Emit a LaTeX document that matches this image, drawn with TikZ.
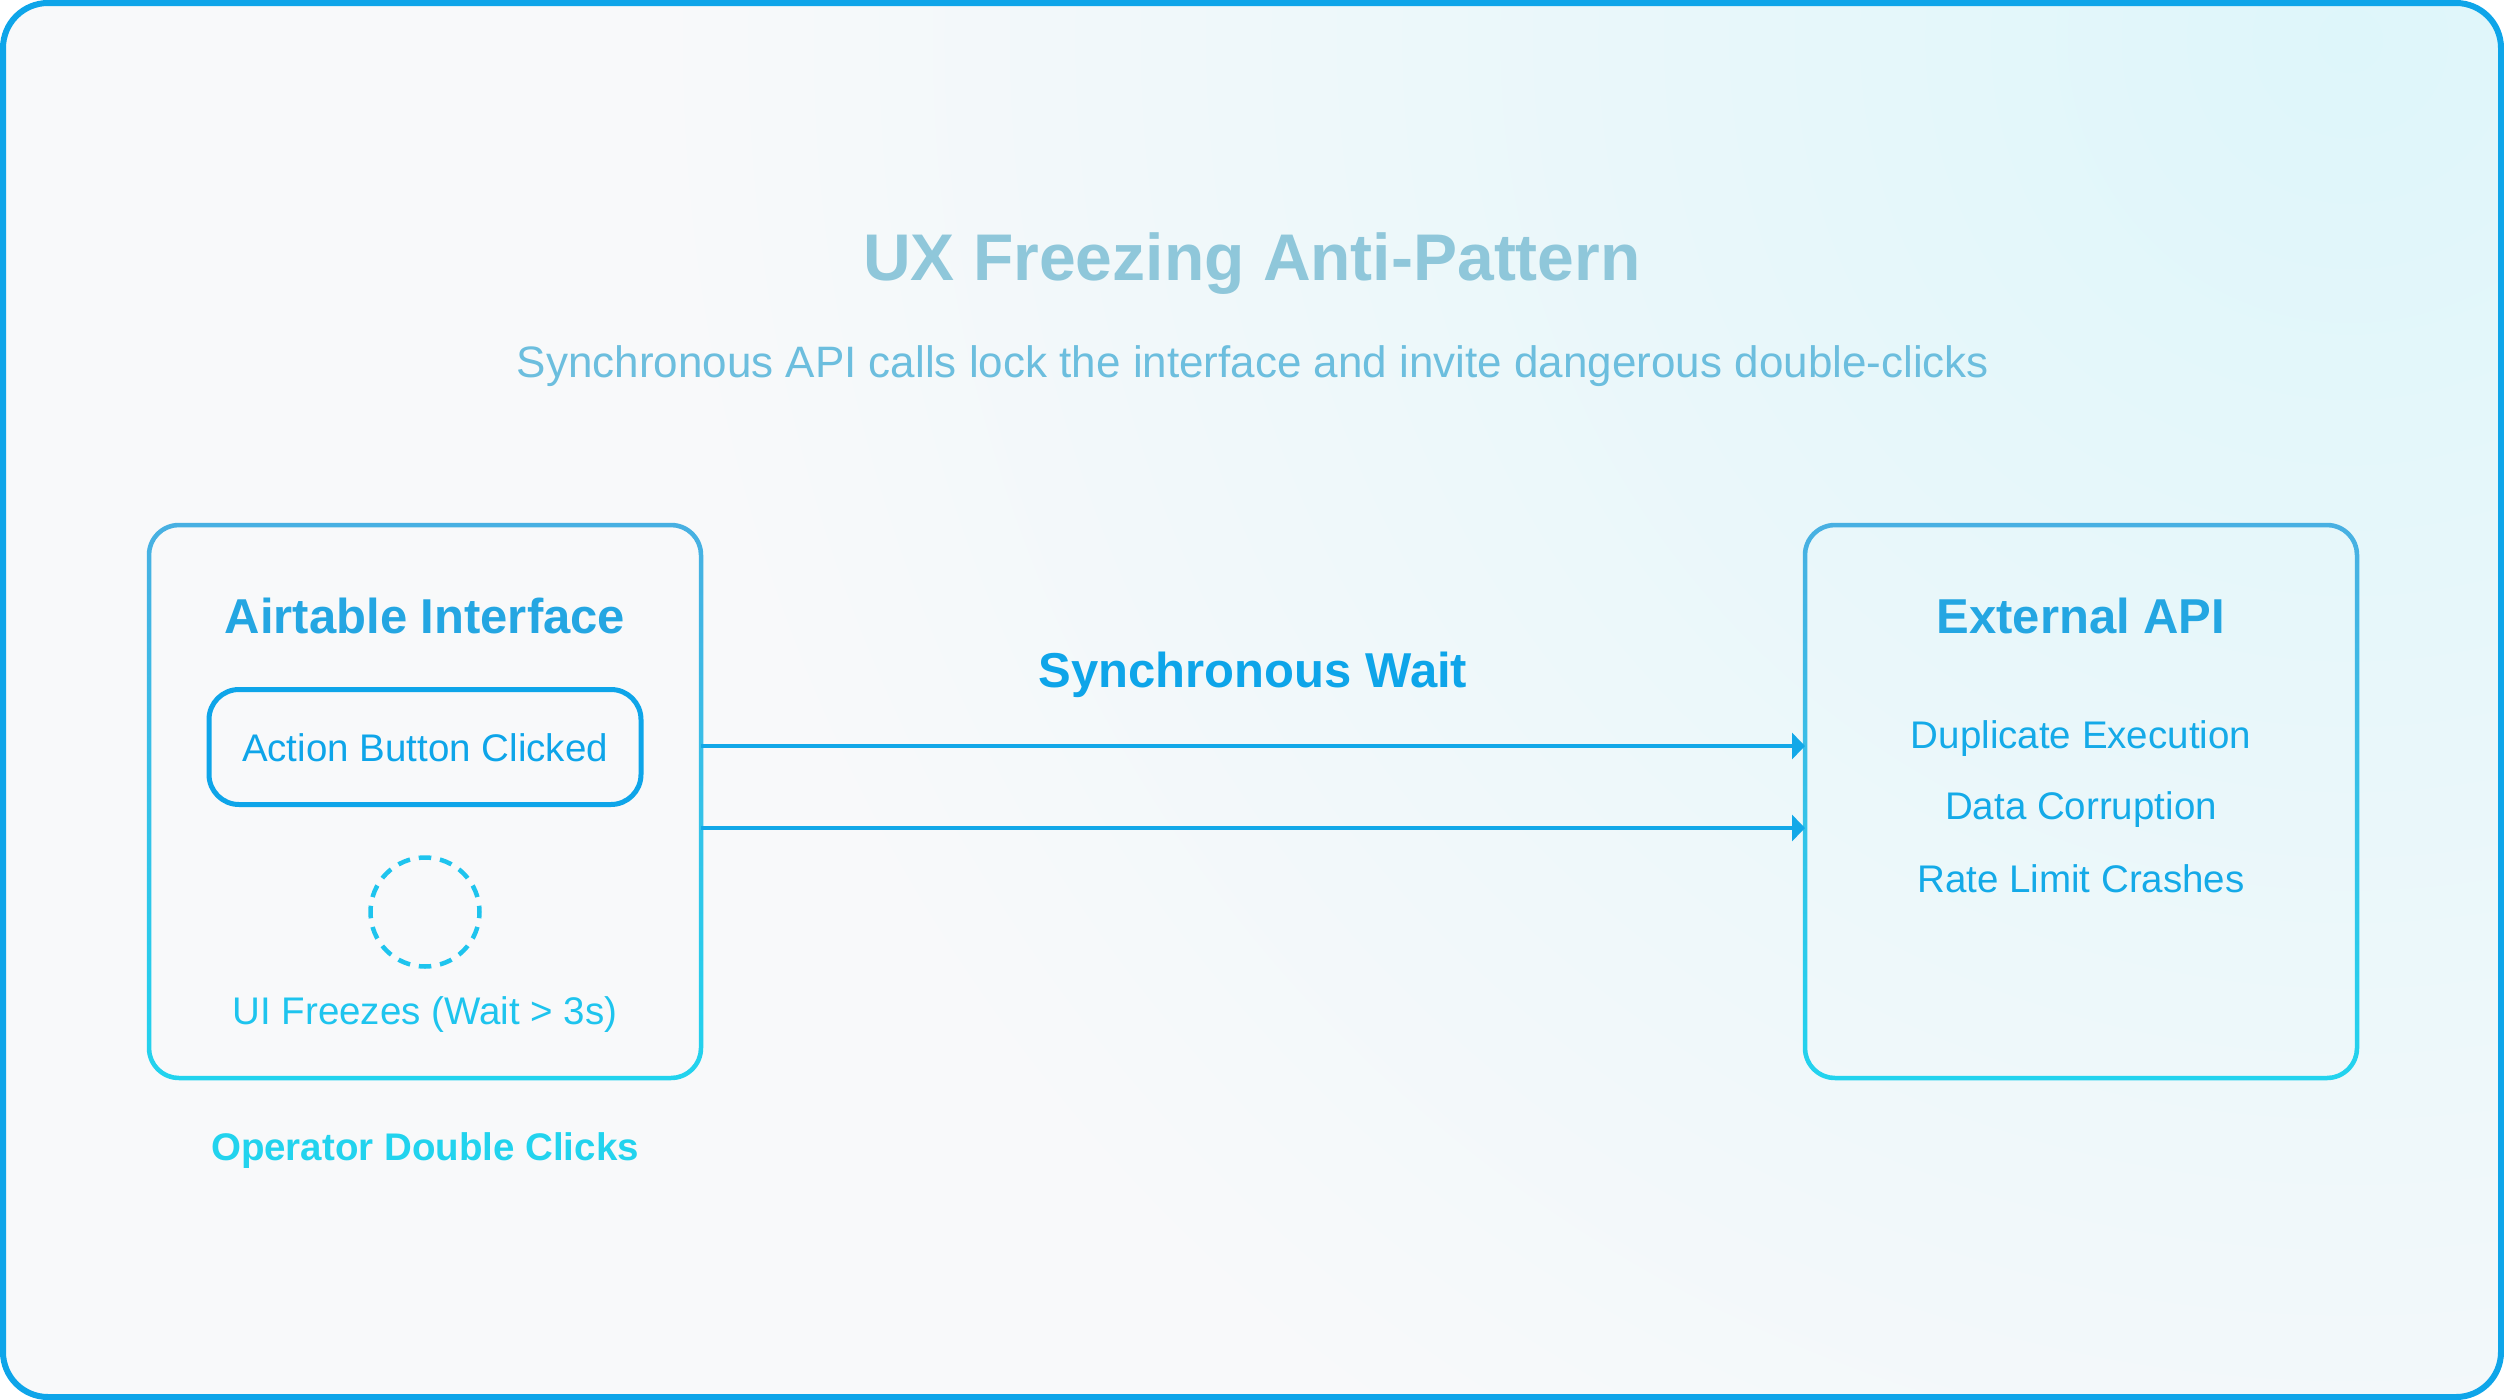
\documentclass[tikz,border=0pt]{standalone}
\usepackage{fontspec}
\setmainfont{Liberation Sans}
\usetikzlibrary{arrows.meta,calc,shadings}
\definecolor{sky}{RGB}{14,165,233}
\definecolor{cyanc}{RGB}{34,211,238}
\definecolor{boxtop}{RGB}{72,176,226}
\definecolor{titlec}{RGB}{143,199,218}
\definecolor{subc}{RGB}{108,190,222}
\definecolor{headc}{RGB}{36,166,226}
\definecolor{itemc}{RGB}{20,170,232}
\definecolor{spinc}{RGB}{30,196,238}
\definecolor{arrc}{RGB}{18,168,232}
\definecolor{bgbase}{RGB}{248,249,250}
\definecolor{bgglow}{RGB}{222,246,250}
\newcommand\ringbox[1]{%
  \shade[top color=boxtop, middle color=sky, bottom color=cyanc, even odd rule, rounded corners=32.25pt]
    ($(#1.north west)+(-2.25,-2.25)$) rectangle ($(#1.south east)+(2.25,2.25)$)
    [rounded corners=27.75pt] ($(#1.north west)+(2.25,2.25)$) rectangle ($(#1.south east)+(-2.25,-2.25)$);}
\begin{document}
\begin{tikzpicture}[x=1pt,y=-1pt,
  bigbox/.style={draw=none, minimum width=552pt, minimum height=553pt, inner sep=0pt, outer sep=0pt},
  head/.style={anchor=base, text=headc, font=\bfseries\fontsize{49}{58}\selectfont},
  item/.style={anchor=base, text=itemc, font=\fontsize{38.5}{46}\selectfont},
  arr/.style={draw=arrc, line width=4.5pt, -{Triangle[length=13pt, width=26pt]}}
]
\useasboundingbox (0,0) rectangle (2504,1400);
\begin{scope}
  \clip[rounded corners=45pt] (3,3) rectangle (2501,1397);
  \fill[bgbase] (0,0) rectangle (2504,1400);
  \shade[inner color=bgglow, outer color=bgbase] (2350,40) circle (1700);
\end{scope}
\draw[sky, line width=6pt, rounded corners=45pt] (3,3) rectangle (2501,1397);

\node[anchor=base, text=titlec, font=\bfseries\fontsize{66}{79}\selectfont] (title) at (1252,280) {UX Freezing Anti-Pattern};
\node[anchor=base, text=subc, font=\fontsize{44}{52}\selectfont] (sub) at (1253,377) {Synchronous API calls lock the interface and invite dangerous double-clicks};

\node[bigbox] (L) at (425,801.5) {};
\node[bigbox] (R) at (2081,801.5) {};
\ringbox{L}
\ringbox{R}

\node[head] (lt) at (425,633) {Airtable Interface};
\node[head] (rt) at (2081,633) {External API};

\node[draw=sky, line width=5pt, rounded corners=30pt, minimum width=432pt, minimum height=115pt,
      text=sky, font=\fontsize{38.5}{46}\selectfont, text height=28pt, text depth=0pt] (act) at (425,747) {Action Button Clicked};

\node[circle, draw=spinc, line width=4.5pt, dash pattern=on 12.5pt off 8.9pt, dash phase=6.25pt,
      minimum size=109pt, inner sep=0pt] (spin) at (425,912) {};
\node[anchor=base, text=spinc, font=\fontsize{38.5}{46}\selectfont] (frz) at (425,1024) {UI Freezes (Wait > 3s)};
\node[anchor=base, text=cyanc, font=\bfseries\fontsize{38.5}{46}\selectfont] (dbl) at (425,1160) {Operator Double Clicks};

\node[anchor=base, text=sky, font=\bfseries\fontsize{49}{58}\selectfont] (sw) at (1253,687) {Synchronous Wait};

\coordinate (a1) at (425,746);
\coordinate (a2) at (425,828);
\draw[arr] (a1 -| L.east) -- (a1 -| R.west);
\draw[arr] (a2 -| L.east) -- (a2 -| R.west);

\node[item] (i1) at (2081,748) {Duplicate Execution};
\node[item] (i2) at (2081,819) {Data Corruption};
\node[item] (i3) at (2081,892) {Rate Limit Crashes};
\end{tikzpicture}
\end{document}
